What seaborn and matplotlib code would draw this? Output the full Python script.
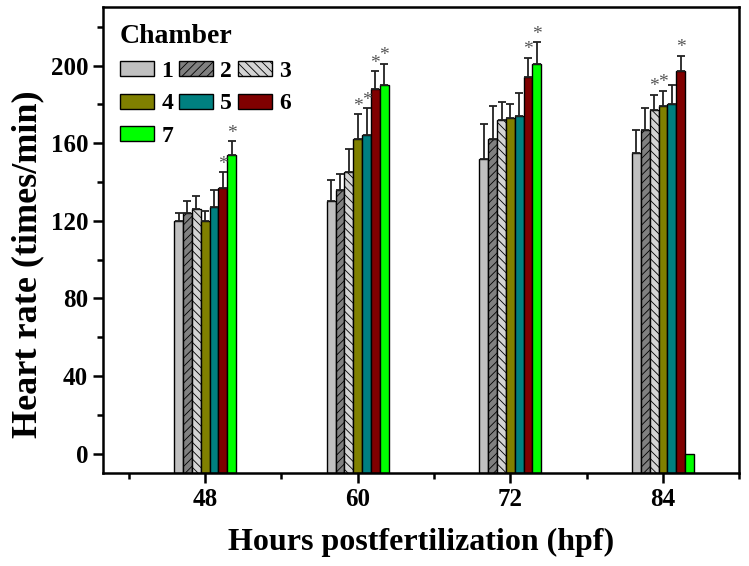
import numpy as np
import pandas as pd
import seaborn as sns
import matplotlib
matplotlib.use("Agg")
import matplotlib.pyplot as plt
from matplotlib.ticker import FixedLocator

# ---- data ----
hpf = ["48", "60", "72", "84"]
chambers = ["1", "2", "3", "4", "5", "6", "7"]
rate_c1 = [120, 130, 152, 155]
rate_c2 = [124, 136, 162, 167]
rate_c3 = [126, 145, 172, 177]
rate_c4 = [120, 162, 173, 179]
rate_c5 = [127, 164, 174, 180]
rate_c6 = [137, 188, 194, 197]
rate_c7 = [154, 190, 201, 0]
err_c1 = [4, 11, 18, 12]
err_c2 = [6, 8, 17, 11]
err_c3 = [7, 12, 9, 8]
err_c4 = [5, 13, 7, 8]
err_c5 = [9, 14, 12, 10]
err_c6 = [8, 9, 10, 8]
err_c7 = [7, 11, 11, 0]
star_c1 = [0, 0, 0, 0]
star_c2 = [0, 0, 0, 0]
star_c3 = [0, 0, 0, 1]
star_c4 = [0, 1, 0, 1]
star_c5 = [0, 1, 0, 0]
star_c6 = [1, 1, 1, 1]
star_c7 = [1, 1, 1, 0]

rates = [rate_c1, rate_c2, rate_c3, rate_c4, rate_c5, rate_c6, rate_c7]
errs = [err_c1, err_c2, err_c3, err_c4, err_c5, err_c6, err_c7]
stars = [star_c1, star_c2, star_c3, star_c4, star_c5, star_c6, star_c7]

rows = []
for ci, c in enumerate(chambers):
    for hi, h in enumerate(hpf):
        rows.append({"hpf": h, "Chamber": c, "rate": rates[ci][hi]})
df = pd.DataFrame(rows)

colors = ["#c0c0c0", "#808080", "#d4d4d4", "#808000", "#008080", "#800000", "#00ff00"]
hatches = [None, "////", "\\\\\\\\", None, None, None, None]

sns.set_style("ticks")
plt.rcParams["font.family"] = ["Liberation Serif", "DejaVu Serif"]
plt.rcParams["font.weight"] = "bold"
plt.rcParams["hatch.linewidth"] = 0.6
plt.rcParams["hatch.color"] = "#333333"
for k in ["text.color", "axes.labelcolor", "xtick.color", "ytick.color",
          "axes.edgecolor"]:
    plt.rcParams[k] = "black"

fig = plt.figure(figsize=(7.49, 5.66), dpi=100)
ax = fig.add_axes([0.138, 0.164, 0.849, 0.823])

sns.barplot(data=df, x="hpf", y="rate", hue="Chamber", order=hpf,
            hue_order=chambers, palette=colors, width=0.405, gap=0,
            errorbar=None, edgecolor="black", linewidth=1.0, ax=ax,
            saturation=1)

ymin = -10
bar_containers = list(ax.containers)
for ci, cont in enumerate(bar_containers):
    patches = list(cont)
    for hi, p in enumerate(patches):
        h = p.get_height()
        p.set_y(ymin)
        p.set_height(h - ymin)
        if hatches[ci]:
            p.set_hatch(hatches[ci])
    xs = np.array([p.get_x() + p.get_width() / 2 for p in patches])
    vals = np.array(rates[ci], dtype=float)
    e = np.array(errs[ci], dtype=float)
    mask = e > 0
    ax.errorbar(xs[mask], vals[mask],
                yerr=[np.zeros(mask.sum()), e[mask]], fmt="none",
                ecolor="#222222", elinewidth=1.3, capsize=3.2, capthick=1.3,
                zorder=3)
    for hi in range(len(hpf)):
        if stars[ci][hi]:
            ax.text(xs[hi], vals[hi] + e[hi] + 1.8, "*", ha="center",
                    va="baseline", fontsize=14, color="#555555",
                    fontweight="normal")

ax.set_ylim(-10, 230)
ax.set_xlim(-2 / 3, 3.5)
ax.yaxis.set_major_locator(FixedLocator([0, 40, 80, 120, 160, 200]))
ax.yaxis.set_minor_locator(FixedLocator([20, 60, 100, 140, 180, 220]))
ax.xaxis.set_minor_locator(FixedLocator([-0.5, 0.5, 1.5, 2.5, 3.5]))

for s in ax.spines.values():
    s.set_linewidth(1.8)
    s.set_visible(True)
    s.set_color("black")
ax.tick_params(axis="both", which="major", direction="out", length=7,
               width=1.8, labelsize=18, pad=4)
ax.tick_params(axis="both", which="minor", direction="out", length=4.5,
               width=1.8)
ax.tick_params(top=False, right=False, which="both")

ax.set_xlabel("Hours postfertilization (hpf)", fontsize=23,
              fontweight="bold", labelpad=12)
ax.set_ylabel("Heart rate (times/min)", fontsize=26, fontweight="bold")
ax.yaxis.set_label_coords(-0.093, 0.448)

handles, labels = ax.get_legend_handles_labels()
for ci, hnd in enumerate(handles):
    if hatches[ci]:
        hnd.set_hatch(hatches[ci])
order = [0, 3, 6, 1, 4, 2, 5]
leg = ax.legend([handles[i] for i in order], [labels[i] for i in order],
                title="Chamber", ncol=3, frameon=False, loc="upper left",
                bbox_to_anchor=(0.0, 1.0), fontsize=17,
                title_fontproperties={"weight": "bold", "size": 20},
                handlelength=1.45, handleheight=0.6, handletextpad=0.3,
                columnspacing=0.25, labelspacing=0.5, alignment="left",
                borderaxespad=0.3)
for t in leg.get_texts():
    t.set_fontweight("bold")
for hnd in leg.legend_handles:
    hnd.set_edgecolor("black")
    hnd.set_linewidth(1.0)

fig.savefig("out.png", dpi=100)
